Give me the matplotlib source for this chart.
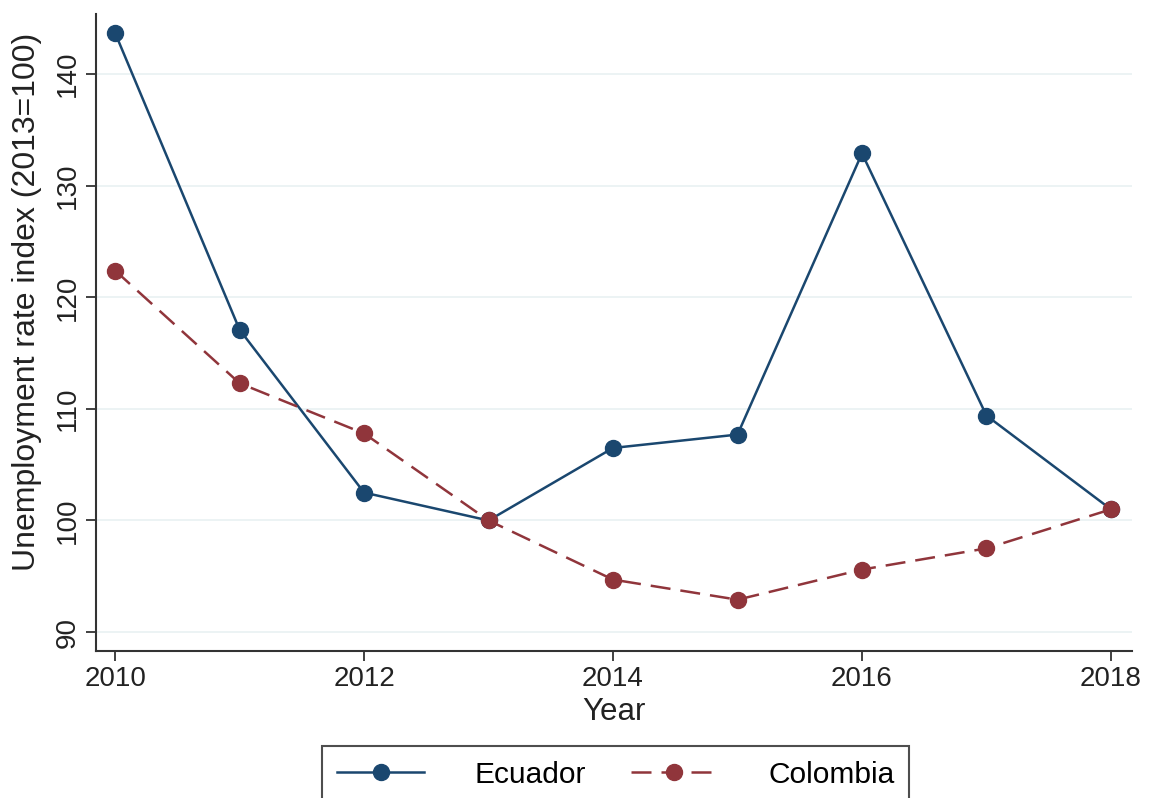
import matplotlib
matplotlib.use("Agg")
import matplotlib.pyplot as plt

years = [2010, 2011, 2012, 2013, 2014, 2015, 2016, 2017, 2018]
ecuador = [143.7, 117.1, 102.5, 100.0, 106.5, 107.7, 132.9, 109.4, 101.0]
colombia = [122.4, 112.3, 107.8, 100.0, 94.7, 92.9, 95.6, 97.5, 101.0]

x_ticks = [2010, 2012, 2014, 2016, 2018]
y_ticks = [90, 100, 110, 120, 130, 140]

plt.rcParams["font.family"] = ["Liberation Sans", "DejaVu Sans"]

fig = plt.figure(figsize=(11.49, 7.98), dpi=100)
ax = fig.add_axes([0.0836, 0.1842, 0.9016, 0.7983])

navy = "#1a476f"
maroon = "#90353b"

ax.plot(years, ecuador, color=navy, lw=1.8, marker="o", ms=11.5,
        label="Ecuador", zorder=3)
ax.plot(years, colombia, color=maroon, lw=1.8, marker="o", ms=11.5,
        dashes=(8, 4), label="Colombia", zorder=3)

ax.set_xlim(2009.847, 2018.169)
ax.set_ylim(88.3, 145.4)
ax.set_xticks(x_ticks)
ax.set_yticks(y_ticks)
ax.grid(axis="y", color="#eaf2f3", lw=1.3, zorder=0)

for s in ["top", "right"]:
    ax.spines[s].set_visible(False)
for s in ["left", "bottom"]:
    ax.spines[s].set_color("#333333")
    ax.spines[s].set_linewidth(1.5)

ax.tick_params(axis="both", direction="out", length=7, width=1.3,
               color="#333333", labelsize=20, labelcolor="#222222")
ax.tick_params(axis="y", pad=4)
for lbl in ax.get_yticklabels():
    lbl.set_rotation(90)
    lbl.set_va("center")

ax.set_xlabel("Year", fontsize=22.5, color="#222222", labelpad=4)
ax.set_ylabel("Unemployment rate index (2013=100)", fontsize=23,
              color="#222222")
ax.yaxis.set_label_coords(-0.052, 0.548)

leg = fig.legend(loc="upper center", bbox_to_anchor=(0.536, 0.084), ncol=2,
                 fontsize=21.5, frameon=True, fancybox=False, handlelength=2.9,
                 columnspacing=1.5, borderpad=0.5, handletextpad=1.7)
leg.get_frame().set_edgecolor("#222222")
leg.get_frame().set_linewidth(1.5)

fig.savefig("out.png", dpi=100)
